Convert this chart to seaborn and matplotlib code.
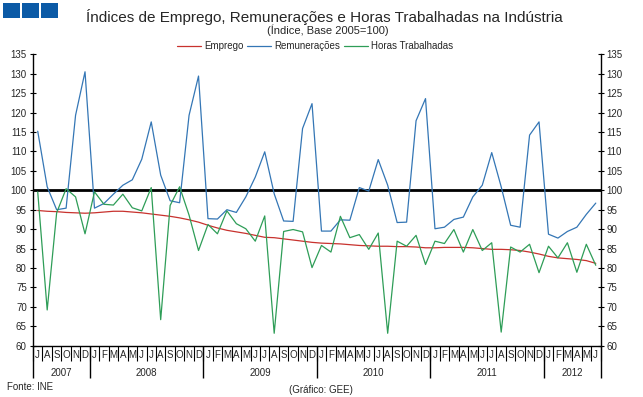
import pandas as pd
import matplotlib
matplotlib.use("Agg")
import matplotlib.pyplot as plt
from matplotlib.patches import Rectangle
import seaborn as sns

# séries mensais jul/2007 - jun/2012 (índice, base 2005=100)
meses = ["J", "A", "S", "O", "N", "D"] + ["J", "F", "M", "A", "M", "J", "J", "A", "S", "O", "N", "D"] * 4 + ["J", "F", "M", "A", "M", "J"]
anos = ["2007", "2008", "2009", "2010", "2011", "2012"]

emprego = [94.8, 94.6, 94.5, 94.3, 94.2, 94.1, 94.2, 94.4, 94.6, 94.6, 94.4, 94.2,
           93.9, 93.6, 93.3, 92.9, 92.4, 91.8, 91.0, 90.3, 89.7, 89.3, 88.9, 88.4,
           87.9, 87.8, 87.5, 87.2, 86.9, 86.6, 86.4, 86.3, 86.2, 86.0, 85.8, 85.7,
           85.6, 85.6, 85.5, 85.5, 85.4, 85.2, 85.2, 85.3, 85.3, 85.3, 85.2, 85.0,
           84.8, 84.8, 84.7, 84.5, 84.1, 83.6, 83.0, 82.6, 82.4, 82.2, 81.9, 81.2]
remuneracoes = [115.2, 100.9, 95.0, 95.4, 119.3, 130.5, 95.4, 96.6, 99.0, 101.3, 102.7, 108.0,
                117.6, 103.9, 97.3, 96.8, 119.3, 129.4, 92.7, 92.6, 95.0, 94.3, 98.3, 103.4,
                109.9, 99.1, 92.1, 92.0, 115.9, 122.3, 89.5, 89.5, 92.4, 92.3, 100.7, 99.8,
                107.9, 101.3, 91.7, 91.8, 117.9, 123.6, 90.1, 90.5, 92.5, 93.1, 98.3, 101.3,
                109.7, 100.9, 91.0, 90.5, 114.2, 117.6, 88.7, 87.7, 89.4, 90.5, 93.8, 96.7]
horas = [99.6, 69.2, 94.2, 100.4, 98.3, 88.8, 99.6, 96.4, 96.2, 99.0, 95.5, 94.7,
         100.7, 66.7, 96.1, 100.9, 93.6, 84.5, 91.2, 88.8, 94.7, 91.4, 90.1, 86.9,
         93.4, 63.2, 89.4, 89.9, 89.3, 80.1, 85.8, 84.1, 93.3, 87.8, 88.6, 84.8,
         89.0, 63.2, 86.9, 85.6, 88.4, 80.9, 86.9, 86.3, 89.9, 84.1, 89.9, 84.5,
         86.5, 63.5, 85.4, 84.1, 86.1, 78.8, 85.6, 82.6, 86.5, 78.9, 86.1, 80.7]

series = ["Emprego", "Remunerações", "Horas Trabalhadas"]
cores = {"Emprego": "#c8322e", "Remunerações": "#3476b5", "Horas Trabalhadas": "#2e9d57"}

n = len(meses)
df = pd.DataFrame({
    "mes": list(range(n)) * 3,
    "valor": emprego + remuneracoes + horas,
    "serie": [s for s in series for _ in range(n)],
})

sns.set_style("white")
plt.rcParams["font.family"] = ["Liberation Sans Narrow", "Liberation Sans", "DejaVu Sans"]

W, H = 643, 397
fig = plt.figure(figsize=(W / 100, H / 100), dpi=100)
ax = fig.add_axes([33 / W, 51.3 / H, 567.5 / W, 291.4 / H])

sns.lineplot(data=df, x="mes", y="valor", hue="serie", hue_order=series,
             palette=cores, linewidth=0.9, ax=ax)
ax.axhline(100, color="black", linewidth=2.0, zorder=1)

ax.set_xlim(-0.5, n - 0.5)
ax.set_ylim(60, 135)
ax.set_yticks(range(60, 136, 5))
ax.set_xlabel("")
ax.set_ylabel("")

for s in ["left", "right", "bottom"]:
    ax.spines[s].set_color("black")
    ax.spines[s].set_linewidth(1.0)
ax.spines["top"].set_visible(False)

ax.tick_params(axis="y", left=True, right=True, labelleft=True, labelright=True,
               direction="inout", length=5, width=0.8, color="black", labelsize=7, pad=2)

# meses no eixo, separadores como ticks menores
ax.set_xticks(range(n))
ax.set_xticklabels(meses)
ax.set_xticks([i - 0.5 for i in range(n + 1)], minor=True)
ax.tick_params(axis="x", which="major", bottom=True, length=0, labelsize=7, pad=3)
ax.tick_params(axis="x", which="minor", bottom=True, direction="out", length=11,
               width=0.8, color="black")

# separadores e rótulos dos anos
limites = [-0.5, 5.5, 17.5, 29.5, 41.5, 53.5, 59.5]
ax.vlines(limites, -0.11, 0, transform=ax.get_xaxis_transform(), color="black",
          linewidth=1.0, clip_on=False)
for k, ano in enumerate(anos):
    ax.text((limites[k] + limites[k + 1]) / 2, -0.094, ano, transform=ax.get_xaxis_transform(),
            ha="center", va="center", fontsize=7)

ax.legend(loc="center", bbox_to_anchor=(315 / W, 1 - 46 / H), bbox_transform=fig.transFigure,
          ncol=3, frameon=False, fontsize=7, handlelength=2.5, handletextpad=0.3,
          columnspacing=0.4)

fig.text(324 / W, 1 - 17 / H, "Índices de Emprego, Remunerações e Horas Trabalhadas na Indústria",
         ha="center", va="center", fontsize=11)
fig.text(328 / W, 1 - 30 / H, "(Índice, Base 2005=100)", ha="center", va="center", fontsize=8)

for x0 in [3, 22, 41]:
    fig.add_artist(Rectangle((x0 / W, 1 - 17.5 / H), 17 / W, 14.5 / H,
                             transform=fig.transFigure, facecolor="#0b5aa6",
                             edgecolor="none", linewidth=0))

fig.text(7 / W, 1 - 387 / H, "Fonte: INE", ha="left", va="center", fontsize=7)
fig.text(321 / W, 1 - 390 / H, "(Gráfico: GEE)", ha="center", va="center", fontsize=7)

fig.savefig("out.png", dpi=100)
